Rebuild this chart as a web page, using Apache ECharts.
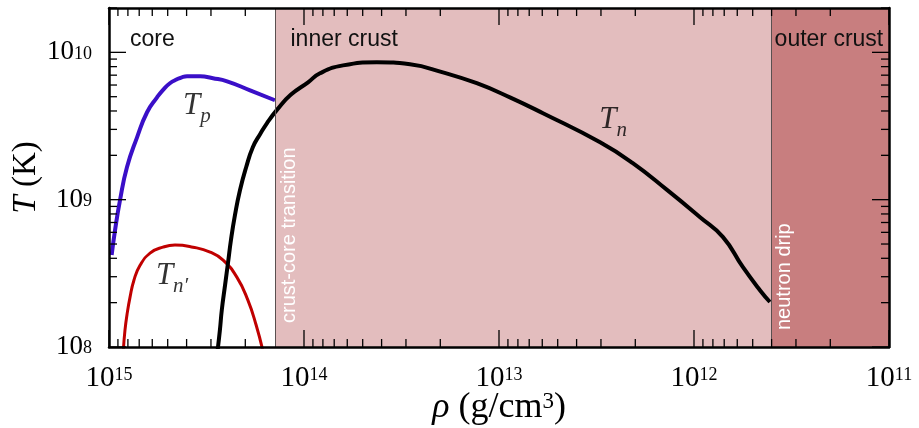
<!DOCTYPE html>
<html><head><meta charset="utf-8">
<script src="https://cdn.jsdelivr.net/npm/echarts@6/dist/echarts.min.js"></script>
<style>html,body{margin:0;padding:0;background:#fff}#c{width:919px;height:428px}</style>
</head><body><div id="c"></div>
<script>
// ---- data ----
const tpRho = [9.69e14, 9.31e14, 8.78e14, 8.09e14, 7.18e14, 6.38e14, 5.67e14, 5.28e14, 4.87e14, 4.48e14, 4.23e14, 3.98e14, 3.41e14, 2.93e14, 2.48e14, 1.89e14, 1.41e14];
const tpT   = [4.21e8, 6.21e8, 9.93e8, 1.66e9, 2.65e9, 3.92e9, 4.95e9, 5.57e9, 6.17e9, 6.56e9, 6.77e9, 6.87e9, 6.87e9, 6.67e9, 6.36e9, 5.52e9, 4.73e9];

const tnpRho = [8.44e14, 8.28e14, 8.09e14, 7.80e14, 7.45e14, 6.93e14, 6.16e14, 5.29e14, 4.59e14, 3.71e14, 3.03e14, 2.60e14, 2.21e14, 1.94e14, 1.76e14, 1.62e14];
const tnpT   = [9.55e7, 1.30e8, 1.65e8, 2.18e8, 2.84e8, 3.59e8, 4.34e8, 4.76e8, 4.92e8, 4.76e8, 4.41e8, 3.89e8, 2.98e8, 2.08e8, 1.41e8, 9.26e7];

const tnRho = [2.78e14, 2.70e14, 2.64e14, 2.54e14, 2.45e14, 2.37e14, 2.26e14, 2.13e14, 1.98e14, 1.83e14, 1.68e14, 1.55e14, 1.37e14, 1.17e14, 9.53e13, 8.28e13, 6.31e13, 4.23e13, 2.86e13, 1.94e13, 1.30e13, 8.79e12, 5.95e12, 3.03e12, 2.06e12, 1.37e12, 9.31e11, 7.10e11, 5.61e11, 4.59e11, 4.08e11];
const tnT   = [9.26e7, 1.30e8, 1.78e8, 2.63e8, 3.77e8, 5.31e8, 7.85e8, 1.16e9, 1.66e9, 2.27e9, 2.78e9, 3.30e9, 4.10e9, 5.15e9, 6.26e9, 7.21e9, 8.16e9, 8.56e9, 8.29e9, 7.31e9, 6.17e9, 4.95e9, 3.86e9, 2.45e9, 1.77e9, 1.16e9, 7.60e8, 5.57e8, 3.48e8, 2.43e8, 2.02e8];

const regionNames  = ['core', 'inner crust', 'outer crust'];
const regionBounds = [1e15, 1.4e14, 4e11, 1e11];
const transitionNames = ['crust-core transition', 'neutron drip'];
const transitionRho   = [1.4e14, 4e11];

const xTickExps = [11, 12, 13, 14, 15];
const yTickExps = [8, 9, 10];
const minorMult = [2, 3, 4, 5, 6, 7, 8, 9];
const xRange = [1e11, 1e15];
const yRange = [1e8, 2e10];

(function () {
// ---- helpers ----
const zip = (a, b) => a.map((v, i) => [v, b[i]]);
function tickList(exps, range) {
  const out = [];
  exps.forEach(e => {
    const base = Math.pow(10, e);
    if (base >= range[0] * 0.999 && base <= range[1] * 1.001) out.push([base, true]);
    minorMult.forEach(m => {
      const v = m * base;
      if (v >= range[0] * 0.999 && v <= range[1] * 1.001) out.push([v, false]);
    });
  });
  return out;
}
const xTicks = tickList(xTickExps, xRange);
const yTicks = tickList(yTickExps, yRange);

function powLabel(v) {
  const e = Math.log10(v);
  if (Math.abs(e - Math.round(e)) > 1e-6) return '';
  return '{b|10}{s|' + Math.round(e) + '}';
}

const serif = '"Liberation Serif", "DejaVu Serif", serif';
const sans = '"Liberation Sans", Arial, sans-serif';
const TICK_MAJOR = 17, TICK_MINOR = 8;

const chart = echarts.init(document.getElementById('c'), null, {renderer: 'canvas'});

function frameAxis(kind, pos) {
  const range = kind === 'x' ? xRange : yRange;
  const ax = {
    type: 'log', logBase: 10, min: range[0], max: range[1], position: pos, z: 10,
    axisLine: {show: true, onZero: false, lineStyle: {color: '#000', width: 2.5}},
    axisTick: {show: false}, axisLabel: {show: false}, splitLine: {show: false}, silent: true
  };
  if (kind === 'x') ax.inverse = true;
  return ax;
}

const xMain = frameAxis('x', 'bottom');
xMain.axisLabel = {
  show: true, formatter: powLabel, margin: 17, showMinLabel: true, showMaxLabel: true,
  rich: {
    b: {fontFamily: serif, fontSize: 29, lineHeight: 29, color: '#000', verticalAlign: 'top'},
    s: {fontFamily: serif, fontSize: 18, lineHeight: 18, color: '#000', verticalAlign: 'top', padding: [2, 0, 0, 0]}
  }
};
xMain.name = '{i|ρ} (g/cm{s|3})';
xMain.nameLocation = 'middle';
xMain.nameGap = 43;
xMain.nameMoveOverlap = false;
xMain.nameTextStyle = {
  fontFamily: serif, fontSize: 36, color: '#000',
  rich: {
    i: {fontFamily: serif, fontStyle: 'italic', fontSize: 36, color: '#000'},
    s: {fontFamily: serif, fontSize: 23, color: '#000', verticalAlign: 'top'}
  }
};

const yMain = frameAxis('y', 'left');
yMain.axisLabel = {
  show: true, formatter: powLabel, margin: 17, showMinLabel: true, showMaxLabel: false,
  rich: {
    b: {fontFamily: serif, fontSize: 27, lineHeight: 27, color: '#000', verticalAlign: 'top'},
    s: {fontFamily: serif, fontSize: 18, lineHeight: 18, color: '#000', verticalAlign: 'top', padding: [6, 0, 0, 0]}
  }
};
yMain.name = '{i|T} (K)';
yMain.nameLocation = 'middle';
yMain.nameGap = 66;
yMain.nameMoveOverlap = false;
yMain.nameRotate = 90;
yMain.nameTextStyle = {
  fontFamily: serif, fontSize: 33, color: '#000',
  rich: {i: {fontFamily: serif, fontStyle: 'italic', fontSize: 33, color: '#000'}}
};

const option = {
  animation: false,
  backgroundColor: '#fff',
  grid: {left: 109, right: 30, top: 8, bottom: 81, show: false, containLabel: false, outerBoundsMode: 'none'},
  xAxis: [xMain, frameAxis('x', 'top')],
  yAxis: [yMain, frameAxis('y', 'right')],
  series: [
    {
      // background regions and transition lines
      type: 'line', data: [], z: 1, silent: true,
      markArea: {
        silent: true,
        data: regionNames.map((n, i) => [{
          name: n, xAxis: regionBounds[i],
          itemStyle: {color: i === 0 ? 'rgba(255,255,255,0)' : (i === 1 ? '#e3bdbe' : '#c87e7f')},
          label: {position: [i === 0 ? 21 : (i === 1 ? 15 : 3), 20]}
        }, {xAxis: regionBounds[i + 1]}]),
        label: {show: true, color: '#111', fontFamily: sans, fontSize: 23, formatter: '{b}'}
      },
      markLine: {
        silent: true, symbol: ['none', 'none'],
        lineStyle: {color: '#5a5050', width: 1, type: 'solid'},
        data: transitionNames.map((n, i) => ({
          name: n, xAxis: transitionRho[i],
          label: {distance: i === 0 ? [24, 4] : [17, 3]}
        })),
        label: {show: true, position: 'insideStartBottom', formatter: '{b}', color: '#fff', fontFamily: sans, fontSize: 20}
      }
    },
    {
      name: 'Tp', type: 'line', data: zip(tpRho, tpT), z: 3, showSymbol: false, smooth: 0.5,
      lineStyle: {color: '#3a0fc8', width: 4}, clip: true
    },
    {
      name: "Tn'", type: 'line', data: zip(tnpRho, tnpT), z: 3, showSymbol: false, smooth: 0.5,
      lineStyle: {color: '#c00000', width: 3}, clip: true
    },
    {
      name: 'Tn', type: 'line', data: zip(tnRho, tnT), z: 3, showSymbol: false, smooth: 0.5,
      lineStyle: {color: '#000', width: 4}, clip: true
    },
    {
      // curve labels
      type: 'scatter', symbolSize: 0, z: 4, silent: true,
      data: [
        {value: [3.54e14, 4.31e9], label: {formatter: '{t|T}{s|p}'}},
        {value: [4.75e14, 3.03e8], label: {formatter: '{t|T}{s|n′}'}},
        {value: [2.60e12, 3.46e9], label: {formatter: '{t|T}{s|n}'}}
      ],
      label: {
        show: true, position: 'inside', align: 'center', verticalAlign: 'middle',
        rich: {
          t: {fontFamily: serif, fontStyle: 'italic', fontSize: 31, lineHeight: 31, color: '#000', verticalAlign: 'top'},
          s: {fontFamily: serif, fontStyle: 'italic', fontSize: 21, lineHeight: 21, color: '#000', verticalAlign: 'top', padding: [15, 0, 0, 0]}
        }
      }
    }
  ]
};
chart.setOption(option);

// inward ticks on all four sides, placed through the axes' own scales
const px = v => chart.convertToPixel({xAxisIndex: 0}, v);
const py = v => chart.convertToPixel({yAxisIndex: 0}, v);
const pxLeft = px(xRange[1]), pxRight = px(xRange[0]);
const pyBottom = py(yRange[0]), pyTop = py(yRange[1]);
const st = {stroke: '#000', lineWidth: 1.3};
const tickEls = [];
xTicks.forEach(([v, major]) => {
  const x = px(v), len = major ? TICK_MAJOR : TICK_MINOR;
  tickEls.push({type: 'line', silent: true, z: 100, shape: {x1: x, y1: pyBottom, x2: x, y2: pyBottom - len}, style: st});
  tickEls.push({type: 'line', silent: true, z: 100, shape: {x1: x, y1: pyTop, x2: x, y2: pyTop + len}, style: st});
});
yTicks.forEach(([v, major]) => {
  const y = py(v), len = major ? TICK_MAJOR : TICK_MINOR;
  tickEls.push({type: 'line', silent: true, z: 100, shape: {x1: pxLeft, y1: y, x2: pxLeft + len, y2: y}, style: st});
  tickEls.push({type: 'line', silent: true, z: 100, shape: {x1: pxRight, y1: y, x2: pxRight - len, y2: y}, style: st});
});
chart.setOption({graphic: tickEls});
})();
</script>
</body></html>
